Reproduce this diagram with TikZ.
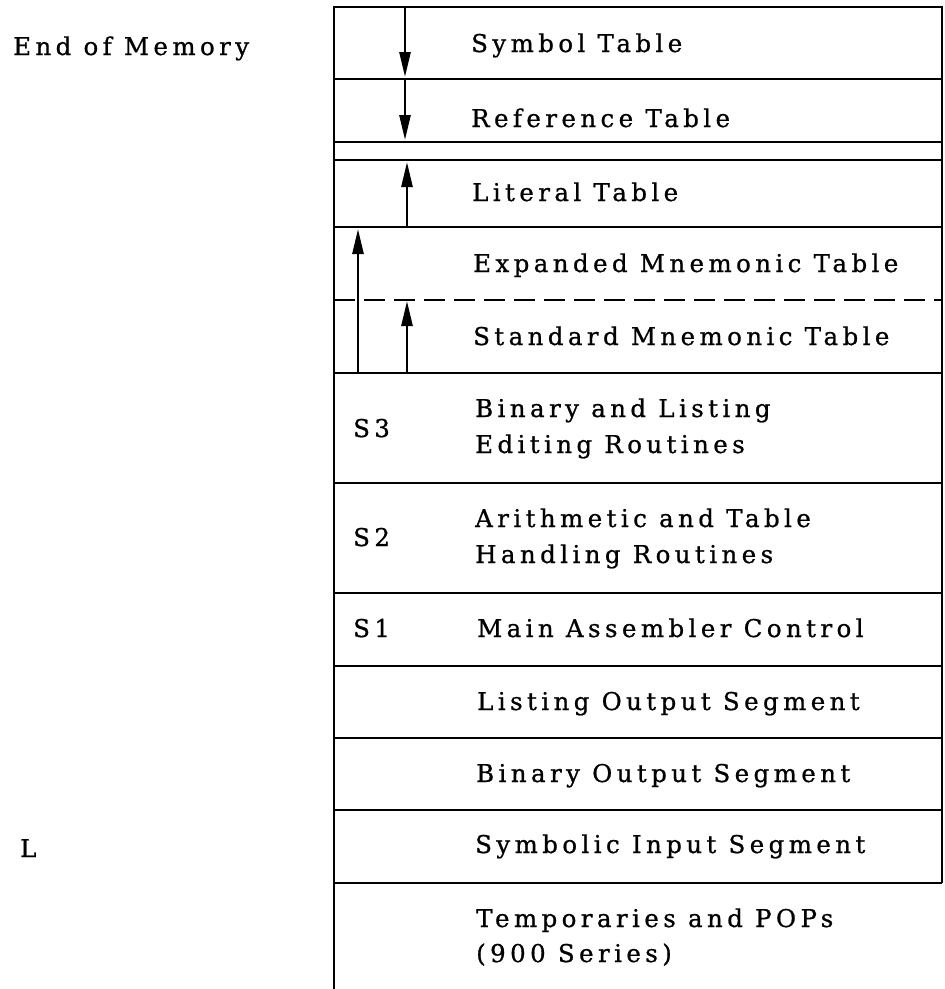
\documentclass[tikz,border=0pt]{standalone}
\usepackage{fontspec}
\setmainfont{DejaVu Serif}[LetterSpace=18, FakeBold=0.8]
\usetikzlibrary{arrows.meta}
\begin{document}
\begin{tikzpicture}[x=1pt,y=-1pt,
  frame/.style={line width=2.9pt},
  dashline/.style={line width=2.5pt, dash pattern=on 21pt off 9pt},
  lbl/.style={anchor=base west, inner sep=0pt, font=\fontsize{24.5}{36}\selectfont},
  growarrow/.style={line width=2.6pt, -{Triangle[length=25pt,width=11pt]}}]
\useasboundingbox (0,0) rectangle (945,989);
% frame
\draw[frame] (942,883) -- (942,7) -- (334,7) -- (334,989);
\foreach \yy in {79,142,160,227,373,483,593,666,738,810,883}
  \draw[frame] (334,\yy) -- (942,\yy);
\draw[dashline] (334,300) -- (942,300);
% labels
\node[lbl] (eom) at (13,55) {End of Memory};
\node[lbl] (lL) at (20,857) {L};
\node[lbl] (sym) at (471,52) {Symbol Table};
\node[lbl] (ref) at (471,127) {Reference Table};
\node[lbl] (lit) at (472,201) {Literal Table};
\node[lbl] (exp) at (473,272) {Expanded Mnemonic Table};
\node[lbl] (std) at (473,345) {Standard Mnemonic Table};
\node[lbl] (s3) at (353,437) {S3};
\node[lbl] (bal) at (475,417) {Binary and Listing};
\node[lbl] (edr) at (475,453) {Editing Routines};
\node[lbl] (s2) at (353,546) {S2};
\node[lbl] (ari) at (475,527) {Arithmetic and Table};
\node[lbl] (han) at (475,563) {Handling Routines};
\node[lbl] (s1) at (353,637) {S1};
\node[lbl] (mac) at (477,637) {Main Assembler Control};
\node[lbl] (los) at (477,710) {Listing Output Segment};
\node[lbl] (bos) at (476,782) {Binary Output Segment};
\node[lbl] (sis) at (475,853) {Symbolic Input Segment};
\node[lbl] (tmp) at (476,927) {Temporaries and POPs};
\node[lbl] (ser) at (476,962) {(900 Series)};
% arrow end points
\coordinate (a1s) at (405,7);   \coordinate (a1e) at (405,77);
\coordinate (a2s) at (405,79);  \coordinate (a2e) at (405,140);
\coordinate (a3s) at (407,227); \coordinate (a3e) at (407,162);
\coordinate (a4s) at (358,373); \coordinate (a4e) at (358,229);
\coordinate (a5s) at (407,373); \coordinate (a5e) at (407,301);
\draw[growarrow] (a1s) -- (a1e);
\draw[growarrow] (a2s) -- (a2e);
\draw[growarrow] (a3s) -- (a3e);
\draw[growarrow] (a4s) -- (a4e);
\draw[growarrow] (a5s) -- (a5e);
\end{tikzpicture}
\end{document}
